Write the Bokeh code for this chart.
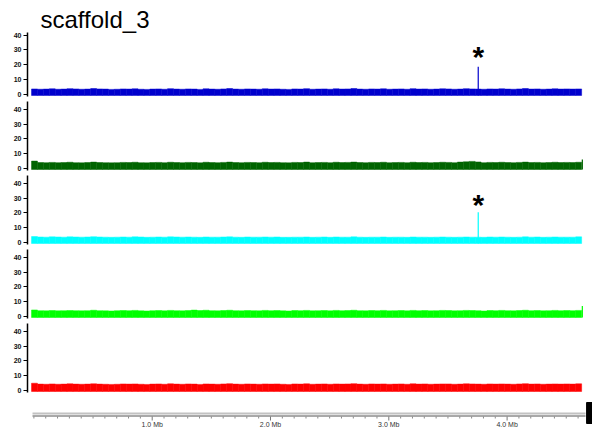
from bokeh.plotting import figure
from bokeh.layouts import column
from bokeh.models import Range1d, FixedTicker, Title, ColumnDataSource
from bokeh.core.properties import value
from bokeh.embed import file_html
from bokeh.resources import INLINE

# Coverage along scaffold_3, 50 kb bins (positions in Mb), five samples
bin_start = -0.02
bin_width = 0.05

cov_blue = [3.6, 3.4, 3.5, 3.7, 3.4, 3.5, 3.8, 3.6, 3.4, 3.5, 3.9, 3.6, 3.5, 3.3, 3.4, 3.6, 3.5, 3.7, 3.4, 3.3,
            3.5, 3.6, 3.4, 3.8, 3.5, 3.4, 3.6, 3.5, 3.3, 3.7, 3.5, 3.4, 3.6, 3.9, 3.5, 3.4, 3.6, 3.5, 3.4, 3.7,
            3.5, 3.6, 3.4, 3.3, 3.6, 3.5, 3.8, 3.4, 3.5, 3.6, 3.4, 3.7, 3.5, 3.6, 3.9, 3.5, 3.4, 3.6, 3.5, 3.7,
            3.4, 3.5, 3.6, 3.4, 3.8, 3.5, 3.6, 3.4, 3.5, 3.7, 3.6, 3.4, 3.5, 3.8, 3.6, 3.5, 3.4, 3.6, 3.5, 3.7,
            3.5, 3.4, 3.6, 3.9, 3.5, 3.6, 3.4, 3.5, 3.7, 3.5, 3.6, 3.5, 3.6]
cov_green = [4.9, 3.9, 3.8, 4.0, 3.8, 3.9, 4.1, 3.8, 3.7, 3.9, 4.2, 3.9, 3.8, 3.7, 3.8, 4.0, 3.9, 4.1, 3.8, 3.7,
             3.9, 4.0, 3.8, 4.1, 3.9, 3.8, 4.0, 3.9, 3.7, 4.1, 3.9, 3.8, 4.0, 4.2, 3.9, 3.8, 4.0, 3.9, 3.8, 4.1,
             3.9, 4.0, 3.8, 3.7, 4.0, 3.9, 4.2, 3.8, 3.9, 4.0, 3.8, 4.1, 3.9, 4.0, 4.2, 3.9, 3.8, 4.0, 3.9, 4.1,
             3.8, 3.9, 4.0, 3.8, 4.1, 3.9, 4.0, 3.8, 3.9, 4.1, 4.0, 3.8, 4.2, 4.4, 4.7, 4.3, 3.8, 4.0, 3.9, 4.1,
             3.9, 3.8, 4.0, 4.2, 3.9, 4.0, 3.8, 3.9, 4.1, 3.9, 4.0, 3.9, 4.1]
cov_cyan = [3.9, 3.6, 3.5, 3.7, 3.6, 3.5, 3.7, 3.6, 3.5, 3.6, 3.8, 3.6, 3.5, 3.4, 3.5, 3.6, 3.5, 3.7, 3.6, 3.4,
            3.5, 3.6, 3.5, 3.7, 3.6, 3.5, 3.6, 3.5, 3.4, 3.6, 3.5, 3.5, 3.6, 3.7, 3.5, 3.4, 3.6, 3.5, 3.5, 3.6,
            3.5, 3.6, 3.4, 3.4, 3.5, 3.5, 3.6, 3.4, 3.5, 3.6, 3.4, 3.6, 3.5, 3.5, 3.7, 3.5, 3.4, 3.5, 3.5, 3.6,
            3.4, 3.5, 3.5, 3.4, 3.6, 3.5, 3.5, 3.4, 3.5, 3.6, 3.5, 3.4, 3.5, 3.6, 3.5, 3.5, 3.4, 3.6, 3.5, 3.6,
            3.5, 3.4, 3.5, 3.7, 3.5, 3.6, 3.4, 3.5, 3.6, 3.5, 3.5, 3.5, 3.7]
cov_lime = [4.3, 3.8, 3.7, 3.9, 3.7, 3.8, 3.9, 3.8, 3.7, 3.8, 4.1, 3.8, 3.7, 3.6, 3.8, 3.9, 3.8, 4.0, 3.7, 3.6,
            3.8, 3.9, 3.7, 4.0, 3.8, 3.7, 3.9, 4.2, 3.9, 4.1, 3.8, 3.7, 3.9, 4.1, 3.8, 3.7, 3.9, 3.8, 3.7, 4.0,
            3.8, 3.9, 3.7, 3.6, 3.9, 3.8, 4.0, 3.7, 3.8, 3.9, 3.7, 4.0, 3.8, 3.9, 4.1, 3.8, 3.7, 3.9, 3.8, 4.0,
            3.7, 3.8, 3.9, 3.7, 4.0, 3.8, 3.9, 3.7, 3.8, 4.0, 3.9, 3.7, 3.8, 4.0, 3.9, 3.8, 3.6, 3.9, 3.8, 4.0,
            3.8, 3.7, 3.9, 4.1, 3.8, 3.9, 3.7, 3.8, 4.0, 3.8, 3.9, 3.8, 4.0]
cov_red = [4.8, 4.2, 4.1, 4.3, 4.1, 4.2, 4.4, 4.2, 4.1, 4.2, 4.4, 4.2, 4.1, 4.0, 4.1, 4.3, 4.2, 4.3, 4.1, 4.0,
           4.2, 4.3, 4.1, 4.4, 4.2, 4.1, 4.3, 4.2, 4.0, 4.3, 4.2, 4.1, 4.3, 4.5, 4.2, 4.1, 4.3, 4.2, 4.1, 4.3,
           4.2, 4.3, 4.1, 4.0, 4.3, 4.2, 4.4, 4.1, 4.2, 4.3, 4.1, 4.3, 4.2, 4.3, 4.5, 4.2, 4.1, 4.3, 4.2, 4.3,
           4.1, 4.2, 4.3, 4.1, 4.4, 4.2, 4.3, 4.1, 4.2, 4.3, 4.3, 4.1, 4.2, 4.4, 4.3, 4.2, 4.1, 4.3, 4.2, 4.3,
           4.2, 4.1, 4.3, 4.5, 4.2, 4.3, 4.1, 4.2, 4.3, 4.2, 4.3, 4.2, 4.4]

track_values = [cov_blue, cov_green, cov_cyan, cov_lime, cov_red]
track_colors = ["#0000cd", "#006400", "#00ffff", "#00ff00", "#ff0000"]

# Narrow single-position peaks (track index, position in Mb, depth)
peak_track = [0, 1, 2, 3]
peak_pos = [3.756, 4.636, 3.756, 4.636]
peak_depth = [18.5, 5.9, 20.5, 7.0]

# Peaks flagged with an asterisk (track index, position in Mb)
flag_track = [0, 2]
flag_pos = [3.756, 3.756]

y_ticks = [0, 10, 20, 30, 40]
ruler_ticks = [1, 2, 3, 4]
ruler_minor = [round(0.1 * k, 1) for k in range(47)]
ruler_labels = ["1.0 Mb", "2.0 Mb", "3.0 Mb", "4.0 Mb"]
ruler_span = [-0.0118, 4.663]
handle_span = [4.6719, 4.7219]
title_text = "scaffold_3"

FONT = "Liberation Sans"
# Every panel shares the same horizontal frame (27 px to the right edge)
X_START, X_END = -0.0541, 4.7219
BAR_FLOOR = -0.8


def base_figure(height, top, bottom, y_range, left_axis):
    p = figure(width=592, height=height, output_backend="svg", toolbar_location=None,
               x_range=Range1d(X_START, X_END), y_range=y_range,
               x_axis_location=None, y_axis_location="left" if left_axis else None,
               min_border_left=27, min_border_right=0,
               min_border_top=top, min_border_bottom=bottom)
    p.outline_line_color = None
    p.xgrid.visible = False
    p.ygrid.visible = False
    return p


def track_figure(idx, height, top, y_end):
    p = base_figure(height, top, 2, Range1d(-1.5, y_end), True)

    vals = track_values[idx]
    lefts = [bin_start + i * bin_width for i in range(len(vals))]
    src = ColumnDataSource(dict(left=lefts,
                                right=[l + bin_width for l in lefts],
                                top=vals,
                                bottom=[BAR_FLOOR] * len(vals)))
    p.quad(left="left", right="right", top="top", bottom="bottom", source=src,
           fill_color=track_colors[idx], line_color=track_colors[idx], line_width=0.5)

    px = [pos for t, pos in zip(peak_track, peak_pos) if t == idx]
    pd = [d for t, d in zip(peak_track, peak_depth) if t == idx]
    if px:
        p.segment(x0=px, x1=px, y0=[BAR_FLOOR] * len(px), y1=pd,
                  line_color=track_colors[idx], line_width=1.2)

    fx = [pos for t, pos in zip(flag_track, flag_pos) if t == idx]
    if fx:
        p.text(x=fx, y=[25.4] * len(fx), text=["*"] * len(fx),
               text_font=value(FONT), text_font_size="30px", text_font_style="bold",
               text_align="center", text_baseline="alphabetic", text_color="black")

    ax = p.yaxis[0]
    ax.ticker = FixedTicker(ticks=y_ticks, minor_ticks=[])
    ax.axis_line_color = "black"
    ax.axis_line_width = 1.5
    ax.major_tick_line_color = "black"
    ax.major_tick_line_width = 1
    ax.major_tick_out = 4
    ax.major_tick_in = 0
    ax.minor_tick_line_color = None
    ax.major_label_text_font = FONT
    ax.major_label_text_font_size = "7px"
    ax.major_label_text_font_style = "bold"
    ax.major_label_text_color = "#111111"
    ax.major_label_standoff = 2
    return p


tracks = []
for i in range(5):
    if i == 0:
        f = track_figure(i, 98, 32, 41.7)
        f.add_layout(Title(text=title_text, align="left", offset=13, standoff=0,
                           text_font=FONT, text_font_size="24px",
                           text_font_style="normal", text_color="black"), "above")
    else:
        f = track_figure(i, 74, 3, 45.4)
    tracks.append(f)

# Position ruler with its scroll handle (y in px from the bottom of this strip)
ruler = base_figure(37, 0, 0, Range1d(0, 37), False)
ruler.line(x=ruler_span, y=[18, 18], line_color="#c2c2c2", line_width=2)
ruler.line(x=ruler_span, y=[15.5, 15.5], line_color="#8c8c8c", line_width=1.5)
minor_only = [m for m in ruler_minor if m not in ruler_ticks]
ruler.segment(x0=minor_only, x1=minor_only, y0=[15] * len(minor_only), y1=[13] * len(minor_only),
              line_color="#8a8a8a", line_width=1)
ruler.segment(x0=ruler_ticks, x1=ruler_ticks, y0=[15] * len(ruler_ticks), y1=[11] * len(ruler_ticks),
              line_color="#777777", line_width=1)
ruler.text(x=ruler_ticks, y=[7] * len(ruler_ticks), text=ruler_labels,
           text_font=value(FONT), text_font_size="7px", text_color="#333333",
           text_align="center", text_baseline="middle")
ruler.quad(left=[handle_span[0]], right=[handle_span[1]], bottom=[8], top=[29],
           fill_color="black", line_color="black")

layout = column(*tracks, ruler, spacing=0)

open("out.html", "w").write(file_html(layout, INLINE))
